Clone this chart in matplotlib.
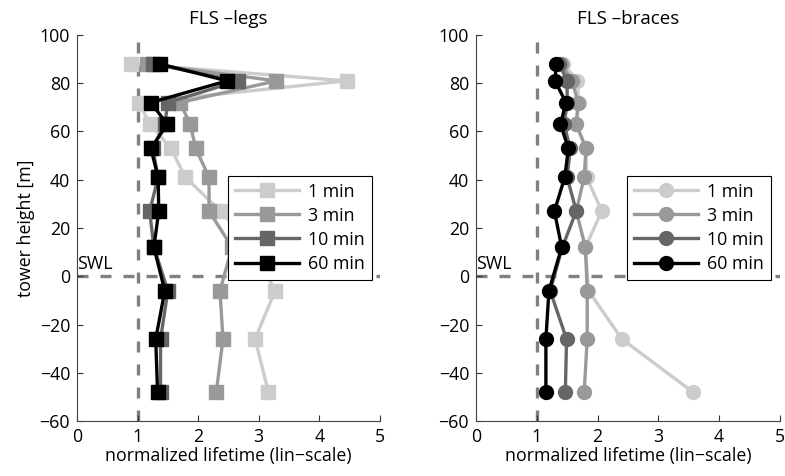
import matplotlib
matplotlib.use('Agg')
import matplotlib.pyplot as plt

plt.rcParams['font.family'] = ['Open Sans', 'DejaVu Sans']
plt.rcParams['font.size'] = 12.8

heights = [88, 81, 72, 63, 53, 41, 27, 12, -6, -26, -48]
labels = ['1 min', '3 min', '10 min', '60 min']
colors = ['#cccccc', '#999999', '#666666', '#000000']

# FLS legs
legs_1 = [0.89, 4.45, 1.02, 1.21, 1.55, 1.79, 2.37, 2.90, 3.27, 2.94, 3.16]
legs_3 = [1.15, 3.29, 1.70, 1.87, 1.96, 2.18, 2.18, 2.56, 2.36, 2.41, 2.30]
legs_10 = [1.25, 2.66, 1.50, 1.45, 1.25, 1.34, 1.20, 1.27, 1.50, 1.38, 1.38]
legs_60 = [1.37, 2.48, 1.22, 1.49, 1.22, 1.34, 1.35, 1.27, 1.45, 1.30, 1.33]

# FLS braces
braces_1 = [1.43, 1.67, 1.69, 1.65, 1.81, 1.82, 2.07, 1.80, 1.85, 2.40, 3.57]
braces_3 = [1.40, 1.58, 1.68, 1.65, 1.81, 1.78, 1.65, 1.80, 1.83, 1.83, 1.78]
braces_10 = [1.37, 1.50, 1.50, 1.45, 1.55, 1.50, 1.65, 1.42, 1.22, 1.49, 1.47]
braces_60 = [1.32, 1.30, 1.48, 1.39, 1.52, 1.46, 1.29, 1.41, 1.20, 1.15, 1.15]

fig = plt.figure(figsize=(7.85, 4.76), dpi=100)
ax1 = fig.add_axes([0.098, 0.1155, 0.386, 0.811])
ax2 = fig.add_axes([0.6064, 0.1155, 0.387, 0.811])


def draw(ax, series, marker, ms, title):
    ax.axvline(1, color='#808080', ls=(0, (3.3, 3.6)), lw=2.4, zorder=1)
    ax.axhline(0, color='#808080', ls=(0, (3.3, 3.6)), lw=2.4, zorder=1)
    for vals, c, lab in zip(series, colors, labels):
        ax.plot(vals, heights, color=c, lw=2.4, marker=marker, ms=ms,
                mfc=c, mec=c, label=lab, zorder=2)
    ax.text(0.0, 1.2, 'SWL', ha='left', va='bottom', fontsize=12.8)
    ax.set_xlim(0, 5)
    ax.set_ylim(-60, 100)
    ax.set_xticks([0, 1, 2, 3, 4, 5])
    ax.set_yticks(range(-60, 101, 20))
    ax.tick_params(direction='in', length=4, width=0.8, colors='#333333',
                   labelcolor='black', pad=5)
    for s in ['top', 'right']:
        ax.spines[s].set_visible(False)
    for s in ['left', 'bottom']:
        ax.spines[s].set_color('#444444')
        ax.spines[s].set_linewidth(0.8)
    ax.set_title(title, fontsize=13.5, pad=8)
    ax.set_xlabel('normalized lifetime (lin\u2212scale)', labelpad=1)
    leg = ax.legend(loc='upper left', bbox_to_anchor=(0.497, 0.636),
                    fancybox=False, edgecolor='black', framealpha=1,
                    handlelength=3.6, handletextpad=0.5, labelspacing=0.34,
                    borderpad=0.4, borderaxespad=0, fontsize=12.8)
    leg.get_frame().set_linewidth(0.8)
    leg.set_zorder(5)


draw(ax1, [legs_1, legs_3, legs_10, legs_60], 's', 9.5, 'FLS \u2013legs')
draw(ax2, [braces_1, braces_3, braces_10, braces_60], 'o', 10, 'FLS \u2013braces')
ax1.set_ylabel('tower height [m]', labelpad=3)

fig.savefig('out.png', dpi=100)
